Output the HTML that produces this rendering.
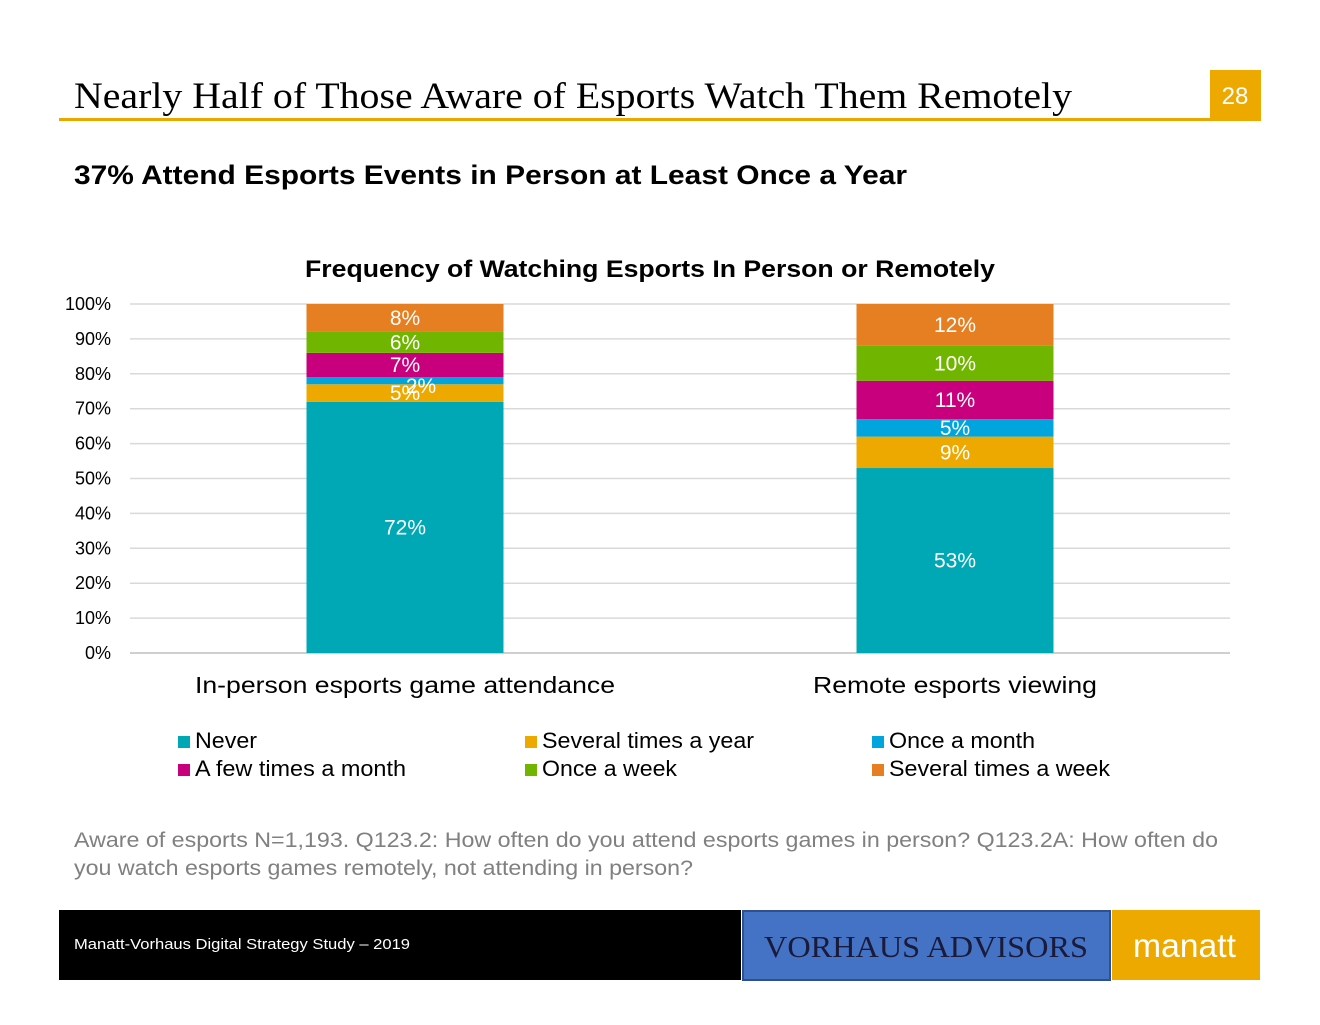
<!DOCTYPE html>
<html><head><meta charset="utf-8"><style>
body{margin:0;background:#fff}
svg text{font-family:"Liberation Sans",sans-serif}
</style></head><body>
<svg id="s" width="1320" height="1020" viewBox="0 0 1320 1020" xmlns="http://www.w3.org/2000/svg">
<text x="74" y="108" style="font-family:'Liberation Serif',serif" font-size="37" textLength="998" lengthAdjust="spacingAndGlyphs" fill="#000">Nearly Half of Those Aware of Esports Watch Them Remotely</text>
<rect x="59" y="118" width="1202" height="3" fill="#E8A800"/>
<rect x="1210" y="70" width="51" height="51" fill="#EDA900"/>
<text x="1235" y="104" text-anchor="middle" font-size="24" fill="#fff">28</text>
<text x="74" y="184" font-size="27" font-weight="bold" textLength="833" lengthAdjust="spacingAndGlyphs" fill="#000">37% Attend Esports Events in Person at Least Once a Year</text>
<text x="305" y="277" font-size="24" font-weight="bold" textLength="690" lengthAdjust="spacingAndGlyphs" fill="#000">Frequency of Watching Esports In Person or Remotely</text>
<g id="grid"></g><g id="bars"></g><g id="legend"></g>
<text x="74" y="847" font-size="21" textLength="1144" lengthAdjust="spacingAndGlyphs" fill="#808080">Aware of esports N=1,193. Q123.2: How often do you attend esports games in person? Q123.2A: How often do</text>
<text x="74" y="875" font-size="21" textLength="619" lengthAdjust="spacingAndGlyphs" fill="#808080">you watch esports games remotely, not attending in person?</text>
<rect x="59" y="910" width="682" height="70" fill="#000"/>
<text x="74" y="949" font-size="15" textLength="336" lengthAdjust="spacingAndGlyphs" fill="#fff">Manatt-Vorhaus Digital Strategy Study – 2019</text>
<rect x="743" y="911" width="367" height="69" fill="#4472C4" stroke="#2F4F8F" stroke-width="2"/>
<text x="764" y="957" style="font-family:'Liberation Serif',serif" font-size="31" textLength="324" lengthAdjust="spacingAndGlyphs" fill="#1a1a3a">VORHAUS ADVISORS</text>
<rect x="1112" y="910" width="148" height="70" fill="#EDA900"/>
<text x="1133" y="957" font-size="33" textLength="103" lengthAdjust="spacingAndGlyphs" fill="#fff">manatt</text>
</svg>
<script>
const categories=["In-person esports game attendance","Remote esports viewing"];
const seriesNames=["Never","Several times a year","Once a month","A few times a month","Once a week","Several times a week"];
const inPerson=[72,5,2,7,6,8];
const remote=[53,9,5,11,10,12];
const yTicks=[0,10,20,30,40,50,60,70,80,90,100];
const colors=["#00A8B5","#EDA900","#00A5DD","#C8007D","#70B500","#E67E22"];
const NS="http://www.w3.org/2000/svg";
const X0=130,X1=1230,Y0=653,Y1=304;
const y=v=>Y0-(v/100)*(Y0-Y1);
const bandW=(X1-X0)/categories.length;
const xc=i=>X0+bandW*(i+0.5);
const barW=197;
function mk(tag,attrs,parent){const e=document.createElementNS(NS,tag);for(const k in attrs)e.setAttribute(k,attrs[k]);parent.appendChild(e);return e;}
const grid=document.getElementById('grid'),bars=document.getElementById('bars'),leg=document.getElementById('legend');
yTicks.forEach(t=>{
 const l=mk('line',{x1:X0,x2:X1,y1:y(t),y2:y(t),stroke:t===0?'#BFBFBF':'#D9D9D9','stroke-width':1.5},grid);
 
 
 const tx=mk('text',{x:111,y:y(t)+6,'text-anchor':'end','font-size':18,fill:'#000'},grid);
 tx.textContent=t+'%';
 
 
});
[inPerson,remote].forEach((vals,i)=>{
 let cum=0;
 vals.forEach((v,j)=>{
  const r=mk('rect',{x:xc(i)-barW/2,y:y(cum+v),width:barW,height:y(cum)-y(cum+v),fill:colors[j]},bars);
  
  
  const off=(v<=2)?16:0;
  const t=mk('text',{x:xc(i)+off,y:y(cum+v/2)+7+(v<=2?5:0),'text-anchor':'middle','font-size':21,fill:'#fff'},bars);
  t.textContent=v+'%';
  
  
  cum+=v;
 });
 const c=mk('text',{x:xc(i),y:693,'text-anchor':'middle','font-size':23,fill:'#000'},bars);
 c.textContent=categories[i];
 c.setAttribute('textLength',i===0?420:284);
 c.setAttribute('lengthAdjust','spacingAndGlyphs');
 
 
});
const lx=[178,525,872];
const legW=[62,212,146,211,135,221];
seriesNames.forEach((n,j)=>{
 const cx=lx[j%3],by=748+Math.floor(j/3)*28;
 const sq=mk('rect',{x:cx,y:by-12,width:12,height:12,fill:colors[j]},leg);
 
 
 const t=mk('text',{x:cx+17,y:by,'font-size':22,fill:'#000',textLength:legW[j],lengthAdjust:'spacingAndGlyphs'},leg);
 t.textContent=n;
 
 
});
</script>
</body></html>
